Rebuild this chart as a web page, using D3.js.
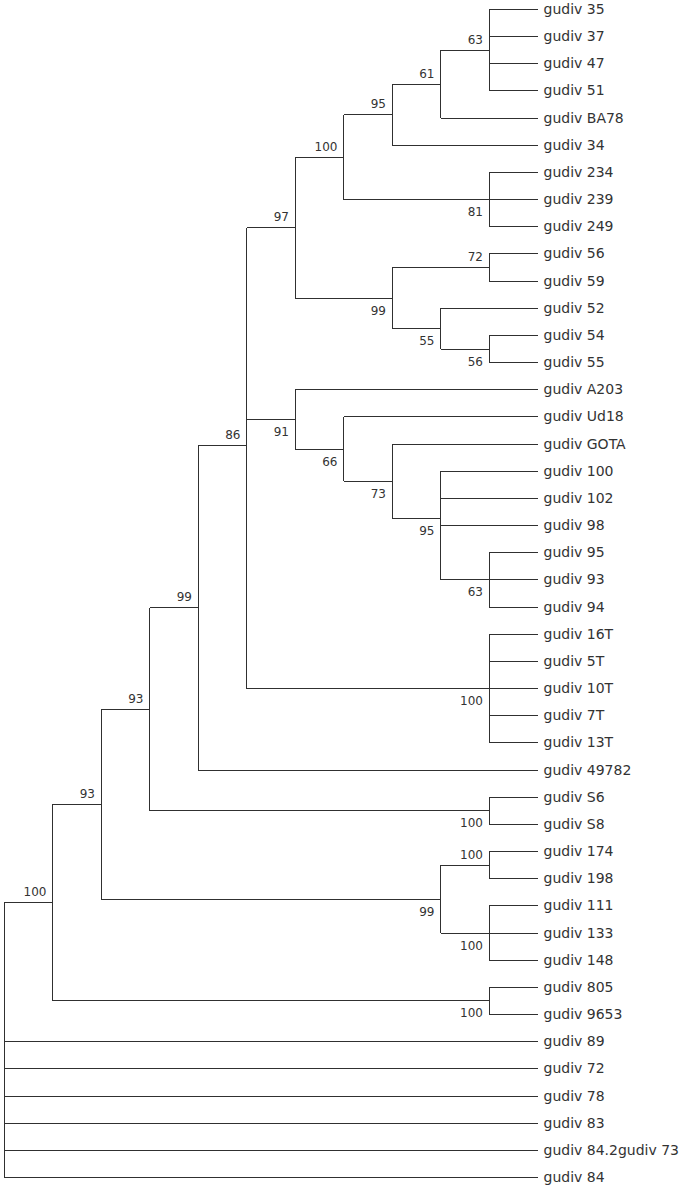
<!DOCTYPE html>
<html>
<head>
<meta charset="utf-8">
<script src="https://cdn.jsdelivr.net/npm/d3@7"></script>
<style>
  html, body { margin: 0; padding: 0; background: #fff; }
  svg { display: block; }
</style>
</head>
<body>
<svg id="chart" width="685" height="1187"></svg>
<script>
// Tree topology (Newick) with bootstrap support values on internal nodes
const newick = "(((((((((((gudiv 35,gudiv 37,gudiv 47,gudiv 51)63,gudiv BA78)61,gudiv 34)95,(gudiv 234,gudiv 239,gudiv 249)81)100,((gudiv 56,gudiv 59)72,(gudiv 52,(gudiv 54,gudiv 55)56)55)99)97,(gudiv A203,(gudiv Ud18,(gudiv GOTA,(gudiv 100,gudiv 102,gudiv 98,(gudiv 95,gudiv 93,gudiv 94)63)95)73)66)91,(gudiv 16T,gudiv 5T,gudiv 10T,gudiv 7T,gudiv 13T)100)86,gudiv 49782)99,(gudiv S6,gudiv S8)100)93,((gudiv 174,gudiv 198)100,(gudiv 111,gudiv 133,gudiv 148)100)99)93,(gudiv 805,gudiv 9653)100)100,gudiv 89,gudiv 72,gudiv 78,gudiv 83,gudiv 84.2gudiv 73,gudiv 84);";

function parseNewick(s) {
  let i = 0;
  function node() {
    const n = {};
    if (s[i] === '(') {
      i++;
      n.children = [];
      do { n.children.push(node()); } while (s[i++] === ',');
    }
    let lab = '';
    while (i < s.length && !',();'.includes(s[i])) lab += s[i++];
    if (n.children) n.support = lab.trim(); else n.name = lab.trim();
    return n;
  }
  return node();
}

const root = d3.hierarchy(parseNewick(newick));
d3.cluster().nodeSize([1, 1]).separation(() => 1)(root);

const leaves = root.leaves();
const maxDepth = d3.max(leaves, d => d.y);
const xScale = d3.scaleLinear().domain([0, maxDepth]).range([4, 537.5]);
const yScale = d3.scaleLinear()
  .domain(d3.extent(leaves, d => d.x))
  .range([9.5, 1177.5]);

const svg = d3.select("#chart");
const lineColor = "#303030";
const g = svg.append("g").attr("stroke", lineColor).attr("stroke-width", 1)
  .attr("shape-rendering", "crispEdges").attr("fill", "none");

// vertical connectors
root.descendants().filter(d => d.children).forEach(d => {
  const ys = d.children.map(c => yScale(c.x));
  g.append("line")
    .attr("x1", xScale(d.y)).attr("x2", xScale(d.y))
    .attr("y1", d3.min(ys)).attr("y2", d3.max(ys));
});
// horizontal branches
root.descendants().filter(d => d.parent).forEach(d => {
  g.append("line")
    .attr("x1", xScale(d.parent.y)).attr("x2", xScale(d.y))
    .attr("y1", yScale(d.x)).attr("y2", yScale(d.x));
});

// leaf labels
svg.append("g").selectAll("text").data(leaves).join("text")
  .attr("x", d => xScale(d.y) + 6)
  .attr("y", d => yScale(d.x) + 4.5)
  .attr("font-family", "DejaVu Sans, Verdana, sans-serif")
  .attr("font-size", 14)
  .attr("fill", "#333")
  .text(d => d.data.name);

// bootstrap labels
const internal = root.descendants().filter(d => d.children && d.parent && d.data.support);
svg.append("g").selectAll("text").data(internal).join("text")
  .attr("x", d => xScale(d.y) - 6)
  .attr("y", d => {
    const first = d.parent.children[0] === d;
    return yScale(d.x) + (first ? -6.5 : 16.5);
  })
  .attr("text-anchor", "end")
  .attr("font-family", "DejaVu Sans, Verdana, sans-serif")
  .attr("font-size", 12)
  .attr("fill", "#333")
  .text(d => d.data.support);
</script>
</body>
</html>
